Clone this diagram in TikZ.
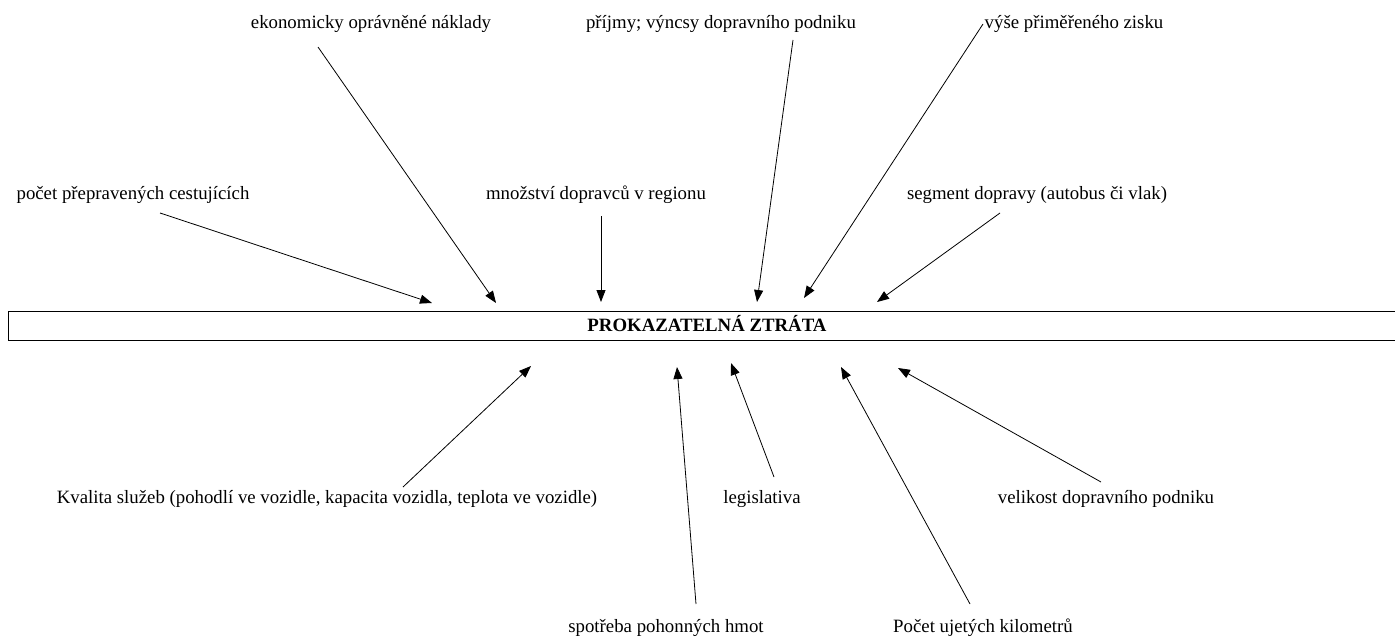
\documentclass[tikz,border=0pt]{standalone}
\usepackage{fontspec}
\setmainfont{Liberation Serif}
\usetikzlibrary{arrows.meta}
\begin{document}
\begin{tikzpicture}[x=1pt,y=-1pt,
  lbl/.style={anchor=base,inner sep=0pt,font=\fontsize{18.8}{22}\selectfont},
  arr/.style={line width=0.8pt,-{Triangle[length=12pt,width=9pt]}}]
\useasboundingbox (0,0) rectangle (1395,637);
% main box
\draw[line width=1pt] (8,311) rectangle (1402,340);
\node[lbl,font=\fontsize{18.8}{22}\selectfont\bfseries] (main) at (707,331) {PROKAZATELNÁ ZTRÁTA};
% labels
\node[lbl] (ek) at (371,28) {ekonomicky oprávněné náklady};
\node[lbl] (pr) at (721,28) {příjmy; výncsy dopravního podniku};
\node[lbl] (vy) at (1074,28) {výše přiměřeného zisku};
\node[lbl] (po) at (133,199) {počet přepravených cestujících};
\node[lbl] (mn) at (596,199) {množství dopravců v regionu};
\node[lbl] (se) at (1037,199) {segment dopravy (autobus či vlak)};
\node[lbl] (kv) at (327,503) {Kvalita služeb (pohodlí ve vozidle, kapacita vozidla, teplota ve vozidle)};
\node[lbl] (le) at (762,503) {legislativa};
\node[lbl] (ve) at (1106,503) {velikost dopravního podniku};
\node[lbl] (sp) at (666,632) {spotřeba pohonných hmot};
\node[lbl] (pu) at (983,632) {Počet ujetých kilometrů};
% connector ends
\coordinate (t1) at (160,213); \coordinate (h1) at (432,303);
\coordinate (t2) at (318,47);  \coordinate (h2) at (496,303);
\coordinate (t3) at (601,216); \coordinate (h3) at (601,302);
\coordinate (t4) at (793,40);  \coordinate (h4) at (757,302);
\coordinate (t5) at (983,24);  \coordinate (h5) at (804,298);
\coordinate (t6) at (1000,213);\coordinate (h6) at (877,302);
\coordinate (t7) at (403,487); \coordinate (h7) at (531,366);
\coordinate (t8) at (696,604); \coordinate (h8) at (677,367);
\coordinate (t9) at (774,477); \coordinate (h9) at (731,363);
\coordinate (t10) at (970,604);\coordinate (h10) at (841,367);
\coordinate (t11) at (1101,482);\coordinate (h11) at (898,368);
\foreach \i in {1,...,11} {\draw[arr] (t\i) -- (h\i);}
\end{tikzpicture}
\end{document}
